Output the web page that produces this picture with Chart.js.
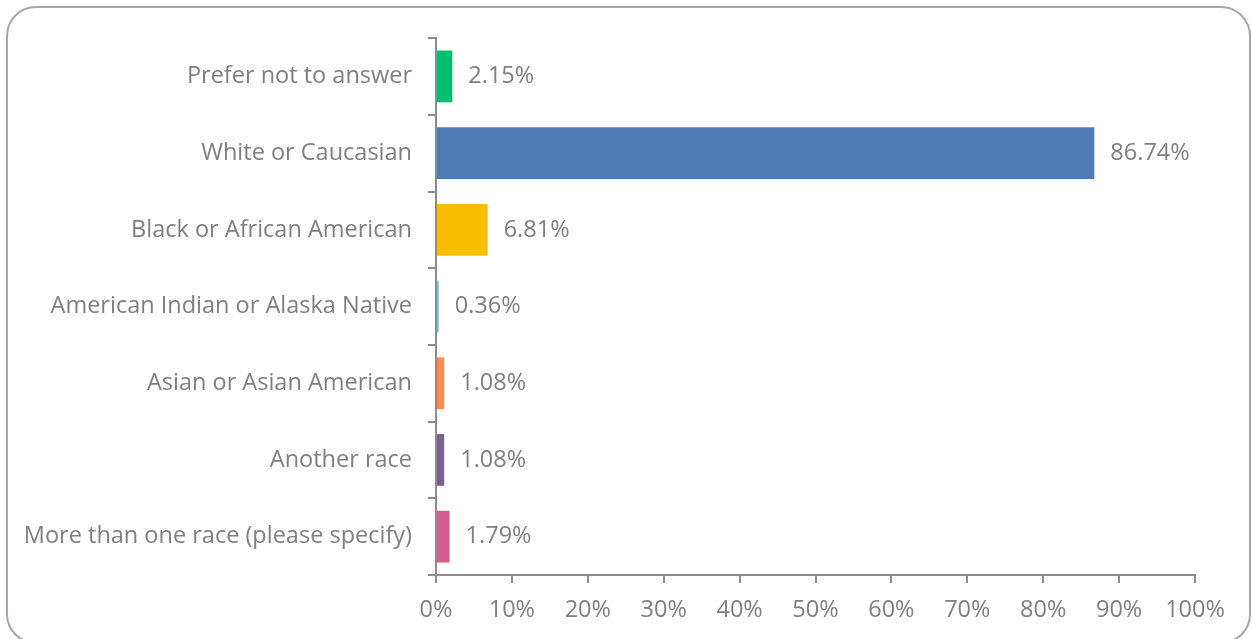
<!DOCTYPE html>
<html>
<head>
<meta charset="utf-8">
<script src="https://cdn.jsdelivr.net/npm/chart.js@4"></script>
<style>
    html, body { margin: 0; padding: 0; background: #fff; overflow: hidden; }
    #frame {
        position: absolute;
        left: 6px;
        top: 6px;
        width: 1241px;
        height: 634px;
        border: 2px solid #a6a6a6;
        border-radius: 30px;
    }
    #chartBox { position: absolute; left: 0; top: 0; width: 1241px; height: 632px; }
</style>
</head>
<body>
<div id="frame">
    <div id="chartBox"><canvas id="raceChart"></canvas></div>
</div>
<script>
const categories = [
    "Prefer not to answer",
    "White or Caucasian",
    "Black or African American",
    "American Indian or Alaska Native",
    "Asian or Asian American",
    "Another race",
    "More than one race (please specify)"
];
const percentValues = [2.15, 86.74, 6.81, 0.36, 1.08, 1.08, 1.79];
const barColors = ["#00BF6F", "#507CB6", "#F9BE00", "#6BC8CD", "#FF8B4F", "#7D5E90", "#D25F90"];
const xTickStep = 10;

const textGrey = "#7f7f7f";
const axisGrey = "#8c8c8c";
const fontFamily = "'Open Sans', sans-serif";
const fontSize = 23.5;

// draws the value next to each bar
const valueLabels = {
    id: "valueLabels",
    afterDatasetsDraw(chart) {
        const ctx = chart.ctx;
        const meta = chart.getDatasetMeta(0);
        ctx.save();
        ctx.font = fontSize + "px " + fontFamily;
        ctx.fillStyle = textGrey;
        ctx.textAlign = "left";
        ctx.textBaseline = "middle";
        meta.data.forEach((bar, i) => {
            ctx.fillText(percentValues[i].toFixed(2) + "%", bar.x + 16, bar.y);
        });
        ctx.restore();
    }
};

new Chart(document.getElementById("raceChart"), {
    type: "bar",
    data: {
        labels: categories,
        datasets: [{
            data: percentValues,
            backgroundColor: barColors,
            borderWidth: 0,
            categoryPercentage: 1,
            barPercentage: 0.675
        }]
    },
    options: {
        indexAxis: "y",
        responsive: true,
        maintainAspectRatio: false,
        animation: false,
        layout: { padding: { top: 27, right: 54, bottom: 0, left: 0 } },
        plugins: {
            legend: { display: false },
            tooltip: { enabled: false }
        },
        scales: {
            x: {
                min: 0,
                max: 100,
                ticks: {
                    stepSize: xTickStep,
                    callback: v => v + "%",
                    color: textGrey,
                    font: { size: fontSize, family: fontFamily },
                    padding: 13,
                    maxRotation: 0
                },
                grid: { drawOnChartArea: false, drawTicks: true, tickLength: 8, color: axisGrey, lineWidth: 2 },
                border: { display: true, color: axisGrey, width: 2 },
                afterFit(scale) { scale.height = 65; }
            },
            y: {
                ticks: {
                    color: textGrey,
                    font: { size: fontSize, family: fontFamily },
                    padding: 16
                },
                grid: { drawOnChartArea: false, drawTicks: true, tickLength: 8, color: axisGrey, lineWidth: 2, offset: true },
                border: { display: true, color: axisGrey, width: 2 },
                afterFit(scale) { scale.width = 428; }
            }
        }
    },
    plugins: [valueLabels]
});
</script>
</body>
</html>
